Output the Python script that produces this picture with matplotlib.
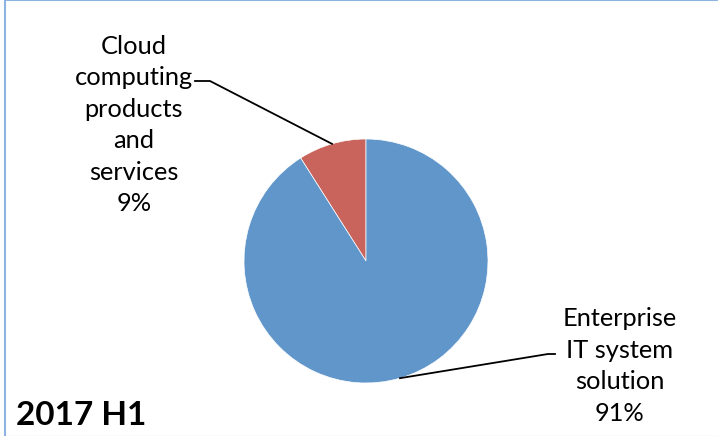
import textwrap
import numpy as np
import matplotlib
matplotlib.use("Agg")
import matplotlib.pyplot as plt
from matplotlib.lines import Line2D
from matplotlib.patches import Rectangle

categories = ["Cloud computing products and services", "Enterprise IT system solution"]
values = [9, 91]
colors = ["#C9645C", "#6196CA"]
title = "2017 H1"

W, H = 718, 436
fig = plt.figure(figsize=(W / 100, H / 100), dpi=100)
plt.rcParams['font.family'] = ['Lato', 'DejaVu Sans']

def fx(x):
    return x / W

def fy(y):
    return 1 - y / H

# border
fig.patches.append(Rectangle((fx(5), fy(437)), fx(760), 437 / H, transform=fig.transFigure,
                             fill=False, edgecolor="#8DB3E2", linewidth=1.5))

cx, cy, r = 366, 261, 122
ax = fig.add_axes([fx(cx - r), fy(cy + r), 2 * r / W, 2 * r / H])
wedges, _ = ax.pie(values, colors=colors, startangle=90, counterclock=True, radius=1,
                   wedgeprops=dict(edgecolor="white", linewidth=0.5))
ax.set_xlim(-1, 1)
ax.set_ylim(-1, 1)
ax.set_aspect("equal")
ax.axis("off")

label_pos = [(134, 125), (620, 366)]
stub = [((195, 81), (210, 81)), ((555, 354), (548, 354))]
fs = 18.3
for w, cat, v, (tx, ty), (s0, s1) in zip(wedges, categories, values, label_pos, stub):
    txt = "\n".join(textwrap.wrap(cat, 10)) + f"\n{v}%"
    fig.text(fx(tx), fy(ty), txt, ha="center", va="center", fontsize=fs,
             linespacing=1.44, color="black")
    ang = np.deg2rad((w.theta1 + w.theta2) / 2)
    px, py = np.cos(ang), np.sin(ang)
    disp = ax.transData.transform((px, py))
    figc = fig.transFigure.inverted().transform(disp)
    fig.lines.append(Line2D([fx(s0[0]), fx(s1[0]), figc[0]], [fy(s0[1]), fy(s1[1]), figc[1]],
                            transform=fig.transFigure, color="black", linewidth=1.3))

fig.text(fx(16), fy(415), title, ha="left", va="center", fontsize=24, fontweight="bold")

fig.savefig("out.png", dpi=100)
